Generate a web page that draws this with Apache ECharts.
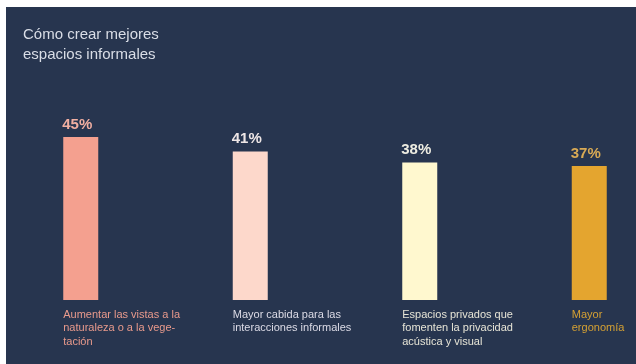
<!DOCTYPE html>
<html>
<head>
<meta charset="utf-8">
<script src="https://cdn.jsdelivr.net/npm/echarts@6/dist/echarts.min.js"></script>
<style>
html,body{margin:0;padding:0;background:#fff;}
#c{width:636px;height:364px;}
</style>
</head>
<body>
<div id="c"></div>
<script>
const titleText = 'Cómo crear mejores\nespacios informales';
const categories = [
  'Aumentar las vistas a la\nnaturaleza o a la vege-\ntación',
  'Mayor cabida para las\ninteracciones informales',
  'Espacios privados que\nfomenten la privacidad\nacústica y visual',
  'Mayor\nergonomía'
];
const values = [45, 41, 38, 37];
const barColors = ['#F4A08F', '#FDD8CB', '#FFF8CF', '#E4A52F'];
const valueLabelColors = ['#F1AFA2', '#EEE6E6', '#EEEDE2', '#D9AA55'];
const categoryLabelColors = ['#E99A8C', '#DCDBE6', '#E6E4D6', '#D4A033'];

const FONT = '"Liberation Sans", Arial, sans-serif';
const chart = echarts.init(document.getElementById('c'));
chart.setOption({
  backgroundColor: '#27354F',
  animation: false,
  title: {
    text: titleText,
    left: 18, top: 20,
    textStyle: {color: '#D9DDE6', fontSize: 15, fontWeight: 'normal', lineHeight: 20, fontFamily: FONT}
  },
  graphic: [
    {type: 'rect', shape: {x: 0, y: 0, width: 636, height: 7}, style: {fill: '#ffffff'}, silent: true},
    {type: 'rect', shape: {x: 0, y: 0, width: 6, height: 364}, style: {fill: '#ffffff'}, silent: true}
  ],
  grid: {left: -4, width: 678, top: 119, bottom: 64, containLabel: false, outerBoundsMode: 'none'},
  xAxis: {
    type: 'category', data: categories, boundaryGap: true,
    axisLine: {show: false}, axisTick: {show: false}, axisLabel: {show: false}
  },
  yAxis: {type: 'value', min: 0, max: 50, show: false, splitLine: {show: false}},
  series: [
    {
      type: 'bar', barWidth: 35, silent: true,
      data: values.map((v, i) => ({value: v, itemStyle: {color: barColors[i]},
        label: {color: valueLabelColors[i]}})),
      label: {
        show: true, position: [-1, -5], align: 'left', verticalAlign: 'bottom',
        formatter: '{c}%', fontSize: 15, fontWeight: 'bold', fontFamily: FONT
      }
    },
    {
      type: 'bar', barWidth: 35, barGap: '-100%', silent: true,
      data: values.map((v, i) => ({value: v, itemStyle: {color: 'rgba(0,0,0,0)'},
        label: {color: categoryLabelColors[i]}})),
      label: {
        show: true, position: [0, '100%'], offset: [0, 8], align: 'left', verticalAlign: 'top',
        formatter: p => categories[p.dataIndex],
        fontSize: 11, lineHeight: 13.5, fontFamily: FONT
      }
    }
  ]
});
</script>
</body>
</html>
